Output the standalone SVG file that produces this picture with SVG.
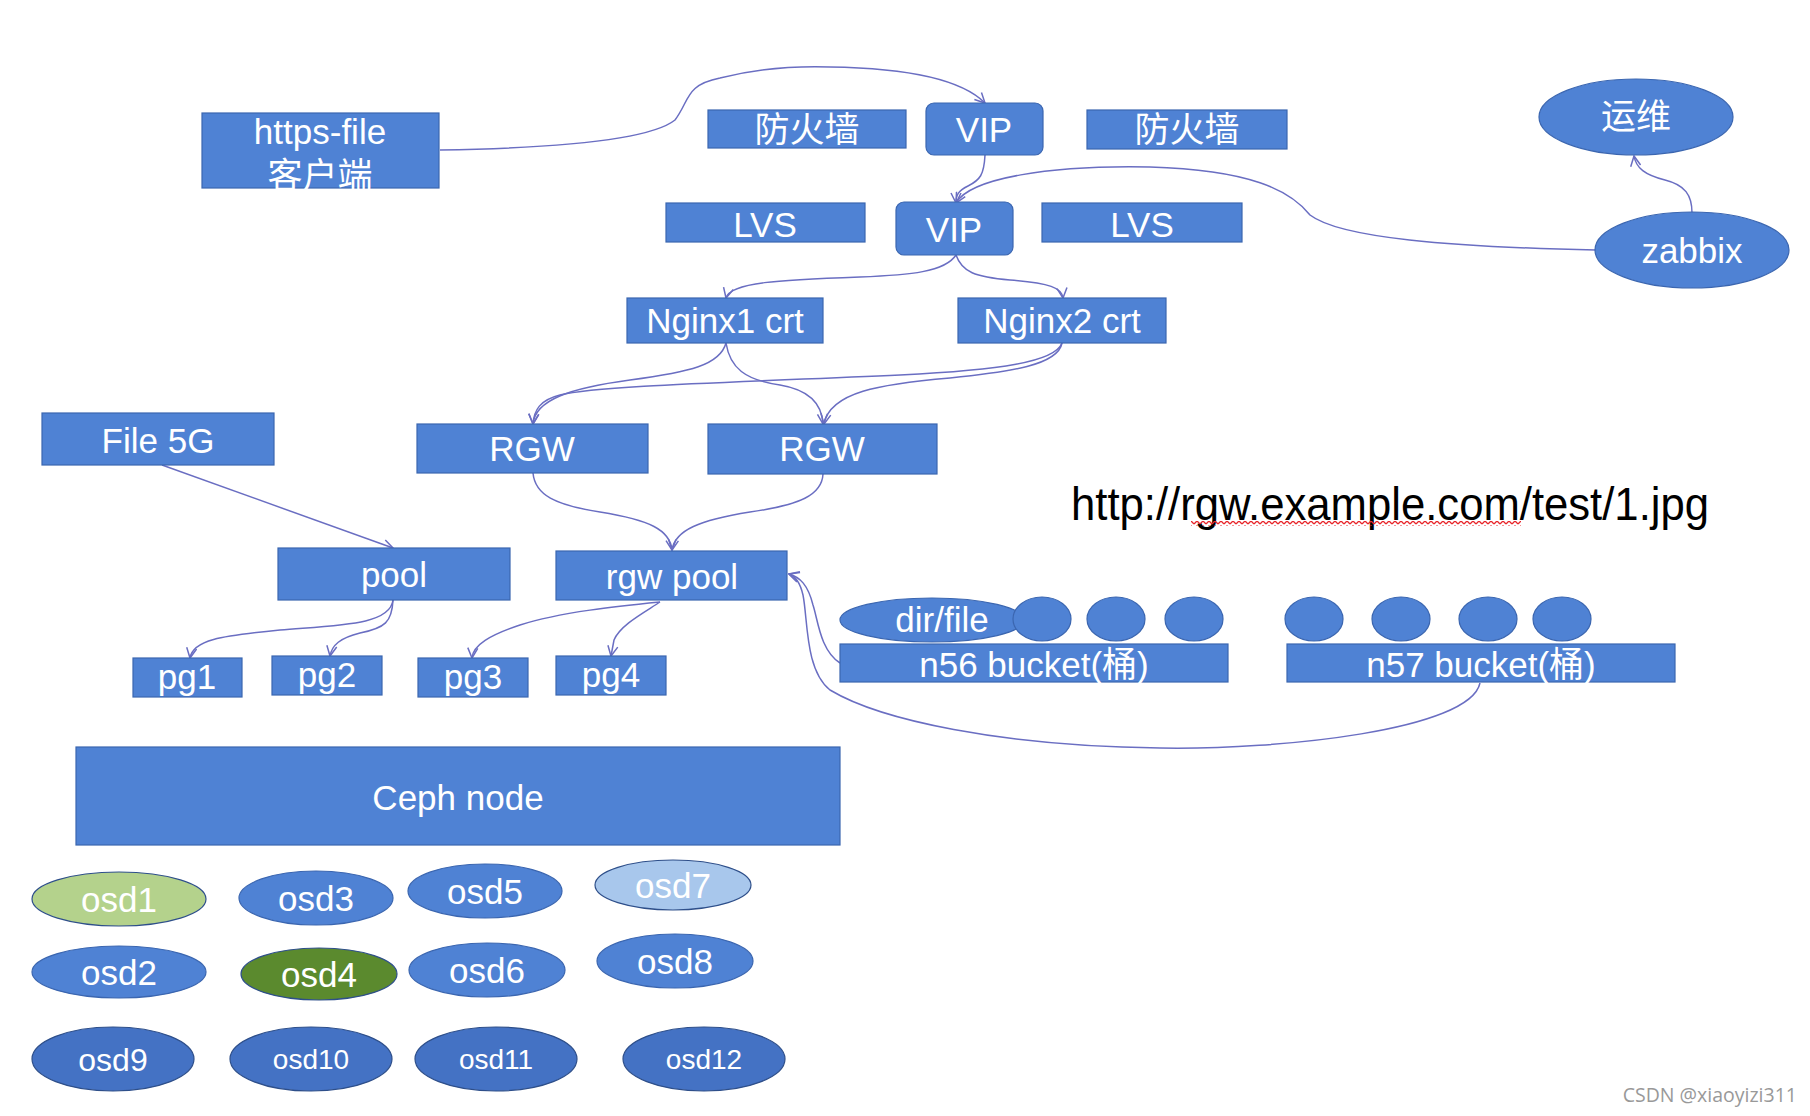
<svg xmlns="http://www.w3.org/2000/svg" width="1810" height="1116" viewBox="0 0 1810 1116">
<style>
.b{fill:#4f82d4;stroke:#3b66b0;stroke-width:1.2}
.t{fill:#fff;font-family:"Liberation Sans","Noto Sans CJK SC",sans-serif;font-size:35px;text-anchor:middle}
.c{fill:none;stroke:#6a6ec2;stroke-width:1.5}
.o{stroke:#2e4f8a;stroke-width:1.2}
</style>
<defs>
<marker id="arr" viewBox="0 0 12 12" refX="11" refY="6" markerWidth="12" markerHeight="12" markerUnits="userSpaceOnUse" orient="auto">
<path d="M1,1 L11,6 L1,11" fill="none" stroke="#6a6ec2" stroke-width="1.5"/>
</marker>
<pattern id="wave" width="6" height="5" patternUnits="userSpaceOnUse">
<path d="M0,4 L3,1 L6,4" fill="none" stroke="#e8262b" stroke-width="1.3"/>
</pattern>
</defs>
<rect width="1810" height="1116" fill="#fff"/>

<g id="connectors">
<path class="c" marker-end="url(#arr)" d="M440,150 C 560,148 650,140 675,120 C 690,100 685,85 720,78 C 760,68 800,66 830,67 C 900,68 960,78 985,103"/>
<path class="c" marker-end="url(#arr)" d="M985,155 C 984,175 980,180 968,186 C 958,191 956,195 956,203"/>
<path class="c" marker-end="url(#arr)" d="M1596,250 C 1450,247 1340,238 1310,215 C 1290,190 1250,170 1150,167 C 1050,165 970,178 956,203"/>
<path class="c" marker-end="url(#arr)" d="M1692,213 C 1692,195 1685,185 1665,180 C 1645,175 1636,168 1634,156"/>
<path class="c" marker-end="url(#arr)" d="M956,255 C 945,272 910,275 860,277 C 780,280 730,282 726,298"/>
<path class="c" marker-end="url(#arr)" d="M956,255 C 962,272 975,277 1010,280 C 1050,283 1062,288 1063,298"/>
<path class="c" marker-end="url(#arr)" d="M726,343 C 720,365 690,372 630,380 C 570,388 535,400 533,424"/>
<path class="c" marker-end="url(#arr)" d="M726,343 C 730,368 745,380 780,385 C 810,390 822,405 823,424"/>
<path class="c" marker-end="url(#arr)" d="M1062,343 C 1055,362 1000,370 900,375 C 750,382 600,385 560,395 C 540,400 534,410 533,424"/>
<path class="c" marker-end="url(#arr)" d="M1062,343 C 1058,365 1010,372 950,378 C 880,384 830,392 824,424"/>
<path class="c" marker-end="url(#arr)" d="M533,473 C 535,495 555,505 600,512 C 650,520 670,530 672,550"/>
<path class="c" marker-end="url(#arr)" d="M823,474 C 822,495 800,505 750,512 C 700,520 675,530 672,550"/>
<path class="c" marker-end="url(#arr)" d="M162,465 L393,548"/>
<path class="c" marker-end="url(#arr)" d="M393,600 C 390,625 340,625 280,630 C 220,636 193,640 190,658"/>
<path class="c" marker-end="url(#arr)" d="M393,600 C 392,622 385,628 360,633 C 340,638 332,645 330,656"/>
<path class="c" marker-end="url(#arr)" d="M660,602 C 620,606 560,612 520,625 C 490,635 473,645 472,658"/>
<path class="c" marker-end="url(#arr)" d="M660,602 C 645,612 620,625 614,640 L611,656"/>
<path class="c" marker-end="url(#arr)" d="M840,663 C 820,650 818,620 813,605 C 808,585 800,577 789,574"/>
<path class="c" marker-end="url(#arr)" d="M1480,683 C 1470,730 1280,750 1160,748 C 1000,746 880,720 830,690 C 805,670 808,620 803,595 C 800,582 795,576 789,574"/>
</g>

<g id="https-client"><rect class="b" x="202" y="113" width="237" height="75"/>
<text class="t" x="320" y="144">https-file</text><text class="t" x="320" y="188">客户端</text></g>
<g id="firewall1"><rect class="b" x="708" y="110" width="198" height="38"/><text class="t" x="807" y="142">防火墙</text></g>
<g id="vip1"><rect class="b" x="926" y="103" width="117" height="52" rx="8"/><text class="t" x="984" y="142">VIP</text></g>
<g id="firewall2"><rect class="b" x="1087" y="110" width="200" height="39"/><text class="t" x="1187" y="142">防火墙</text></g>
<g id="ops"><ellipse class="b" cx="1636" cy="117" rx="97" ry="38"/><text class="t" x="1636" y="129">运维</text></g>
<g id="lvs1"><rect class="b" x="666" y="203" width="199" height="39"/><text class="t" x="765" y="237">LVS</text></g>
<g id="vip2"><rect class="b" x="896" y="202" width="117" height="53" rx="8"/><text class="t" x="954" y="242">VIP</text></g>
<g id="lvs2"><rect class="b" x="1042" y="203" width="200" height="39"/><text class="t" x="1142" y="237">LVS</text></g>
<g id="zabbix"><ellipse class="b" cx="1692" cy="250" rx="97" ry="38"/><text class="t" x="1692" y="263">zabbix</text></g>
<g id="nginx1"><rect class="b" x="627" y="298" width="196" height="45"/><text class="t" x="725" y="333">Nginx1 crt</text></g>
<g id="nginx2"><rect class="b" x="958" y="298" width="208" height="45"/><text class="t" x="1062" y="333">Nginx2 crt</text></g>
<g id="file5g"><rect class="b" x="42" y="413" width="232" height="52"/><text class="t" x="158" y="453">File 5G</text></g>
<g id="rgw1"><rect class="b" x="417" y="424" width="231" height="49"/><text class="t" x="532" y="461">RGW</text></g>
<g id="rgw2"><rect class="b" x="708" y="424" width="229" height="50"/><text class="t" x="822" y="461">RGW</text></g>
<g id="url"><text x="1071" y="520" textLength="638" lengthAdjust="spacingAndGlyphs" style="font-family:'Liberation Sans',sans-serif;font-size:46px;fill:#000">http://rgw.example.com/test/1.jpg</text>
<rect x="1191" y="521" width="330" height="5" fill="url(#wave)"/></g>
<g id="pool"><rect class="b" x="278" y="548" width="232" height="52"/><text class="t" x="394" y="587">pool</text></g>
<g id="rgwpool"><rect class="b" x="556" y="551" width="231" height="49"/><text class="t" x="672" y="589">rgw pool</text></g>
<g id="n56"><rect class="b" x="840" y="644" width="388" height="38"/><text class="t" x="1034" y="677">n56 bucket(桶)</text></g>
<g id="n57"><rect class="b" x="1287" y="644" width="388" height="38"/><text class="t" x="1481" y="677">n57 bucket(桶)</text></g>
<g id="dirfile"><ellipse class="b" cx="932" cy="620" rx="92" ry="22"/><text class="t" x="942" y="632">dir/file</text></g>
<g id="obj1"><ellipse class="b" cx="1042" cy="619" rx="29" ry="22"/></g>
<g id="obj2"><ellipse class="b" cx="1116" cy="619" rx="29" ry="22"/></g>
<g id="obj3"><ellipse class="b" cx="1194" cy="619" rx="29" ry="22"/></g>
<g id="obj4"><ellipse class="b" cx="1314" cy="619" rx="29" ry="22"/></g>
<g id="obj5"><ellipse class="b" cx="1401" cy="619" rx="29" ry="22"/></g>
<g id="obj6"><ellipse class="b" cx="1488" cy="619" rx="29" ry="22"/></g>
<g id="obj7"><ellipse class="b" cx="1562" cy="619" rx="29" ry="22"/></g>
<g id="pg1"><rect class="b" x="133" y="658" width="109" height="39"/><text class="t" x="187" y="689">pg1</text></g>
<g id="pg2"><rect class="b" x="272" y="656" width="110" height="39"/><text class="t" x="327" y="687">pg2</text></g>
<g id="pg3"><rect class="b" x="418" y="658" width="110" height="39"/><text class="t" x="473" y="689">pg3</text></g>
<g id="pg4"><rect class="b" x="556" y="656" width="110" height="39"/><text class="t" x="611" y="687">pg4</text></g>
<g id="cephnode"><rect class="b" x="76" y="747" width="764" height="98"/><text class="t" x="458" y="810">Ceph node</text></g>
<g id="osd1"><ellipse class="o" cx="119" cy="899" rx="87" ry="27" fill="#b4d28c"/><text class="t" x="119" y="912">osd1</text></g>
<g id="osd3"><ellipse class="b" cx="316" cy="898" rx="77" ry="27"/><text class="t" x="316" y="911">osd3</text></g>
<g id="osd5"><ellipse class="b" cx="485" cy="891" rx="77" ry="27"/><text class="t" x="485" y="904">osd5</text></g>
<g id="osd7"><ellipse class="o" cx="673" cy="885" rx="78" ry="25" fill="#a8c7ec"/><text class="t" x="673" y="898">osd7</text></g>
<g id="osd2"><ellipse class="b" cx="119" cy="972" rx="87" ry="26"/><text class="t" x="119" y="985">osd2</text></g>
<g id="osd4"><ellipse class="o" cx="319" cy="974" rx="78" ry="26" fill="#5b8a2e"/><text class="t" x="319" y="987">osd4</text></g>
<g id="osd6"><ellipse class="b" cx="487" cy="970" rx="78" ry="27"/><text class="t" x="487" y="983">osd6</text></g>
<g id="osd8"><ellipse class="b" cx="675" cy="961" rx="78" ry="27"/><text class="t" x="675" y="974">osd8</text></g>
<g id="osd9"><ellipse class="o" cx="113" cy="1059" rx="81" ry="32" fill="#4472c4"/><text class="t" x="113" y="1071" style="font-size:32px">osd9</text></g>
<g id="osd10"><ellipse class="o" cx="311" cy="1059" rx="81" ry="32" fill="#4472c4"/><text class="t" x="311" y="1069" style="font-size:28px">osd10</text></g>
<g id="osd11"><ellipse class="o" cx="496" cy="1059" rx="81" ry="32" fill="#4472c4"/><text class="t" x="496" y="1069" style="font-size:28px">osd11</text></g>
<g id="osd12"><ellipse class="o" cx="704" cy="1059" rx="81" ry="32" fill="#4472c4"/><text class="t" x="704" y="1069" style="font-size:28px">osd12</text></g>
<text x="1797" y="1102" text-anchor="end" style="font-family:'Open Sans','Noto Sans',sans-serif;font-size:19.5px;fill:#999">CSDN @xiaoyizi311</text>
</svg>
